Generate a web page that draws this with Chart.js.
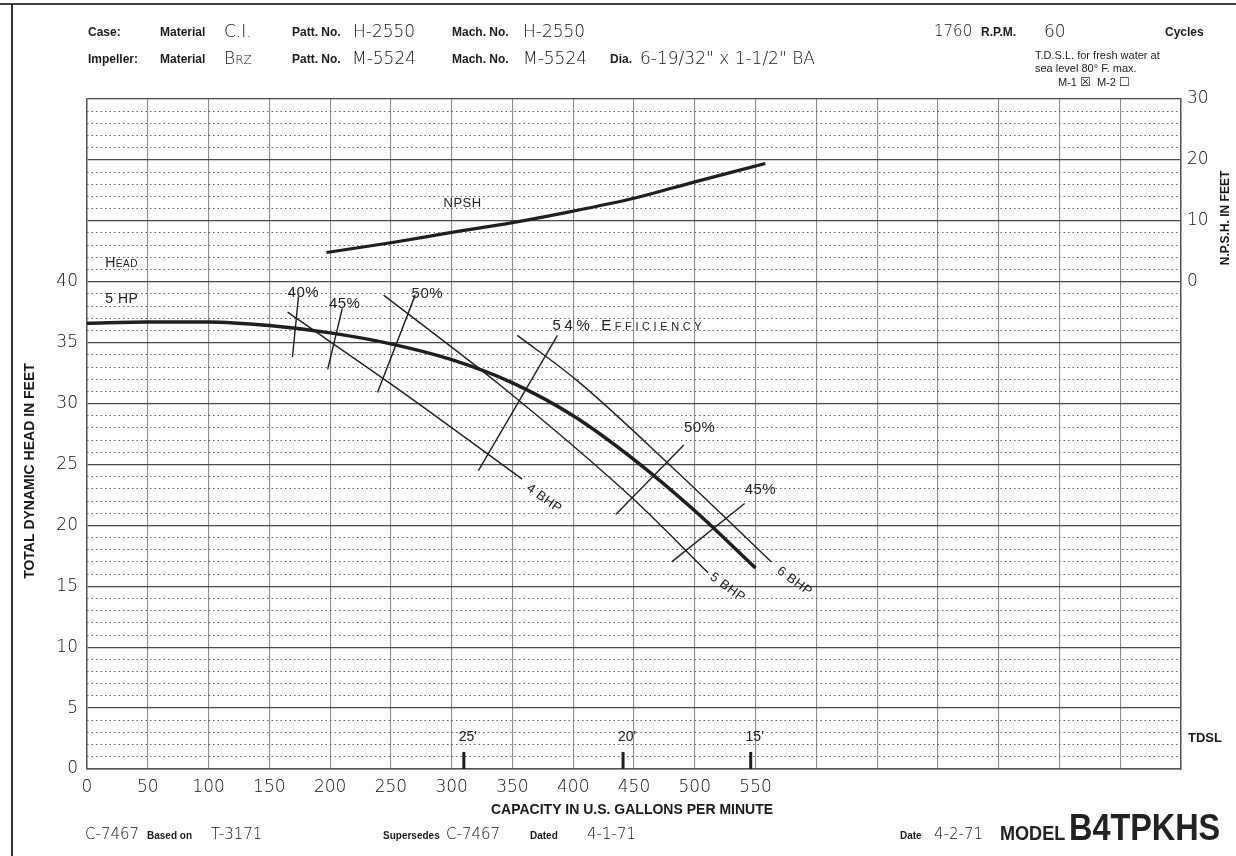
<!DOCTYPE html>
<html>
<head>
<meta charset="utf-8">
<title>B4TPKHS pump curve</title>
<script src="https://cdn.jsdelivr.net/npm/chart.js@4.4.1/dist/chart.umd.min.js"></script>
<style>
  html, body { margin: 0; padding: 0; background: #fff; }
  #page { position: relative; width: 1236px; height: 856px; overflow: hidden; background: #fdfdfc; }
  #chartBox { position: absolute; left: 0; top: 0; width: 1236px; height: 856px; }
  .t { position: absolute; white-space: nowrap; color: #1c1c1c; transform: translateY(-50%); line-height: 1; }
  .b { font-family: "Liberation Sans", Arial, sans-serif; font-weight: bold; font-size: 12px; }
  .f { font-family: "Liberation Sans", Arial, sans-serif; font-weight: bold; font-size: 10px; }
  .v { font-family: "DejaVu Sans", sans-serif; font-weight: 200; font-size: 17px; color: #111; }
  .w { font-family: "DejaVu Sans", sans-serif; font-weight: 200; font-size: 15px; color: #111; }
  .s { font-family: "Liberation Sans", Arial, sans-serif; font-size: 11px; color: #1c1c1c; }
  .frameTop { position: absolute; left: 0; top: 3px; width: 1236px; height: 2px; background: #444; }
  .frameLeft { position: absolute; left: 11px; top: 4px; width: 2px; height: 852px; background: #333; }
</style>
</head>
<body>
<div id="page">
  <div id="chartBox"><canvas id="pumpChart" width="1236" height="856"></canvas></div>
  <div class="frameTop"></div>
  <div class="frameLeft"></div>

  <!-- header -->
  <span class="t b" style="left:88px;top:32px">Case:</span>
  <span class="t b" style="left:160px;top:32px">Material</span>
  <span class="t v" style="left:224px;top:31px">C.I.</span>
  <span class="t b" style="left:292px;top:32px">Patt. No.</span>
  <span class="t v" style="left:353px;top:31px">H-2550</span>
  <span class="t b" style="left:452px;top:32px">Mach. No.</span>
  <span class="t v" style="left:523px;top:31px">H-2550</span>
  <span class="t w" style="left:934px;top:31px">1760</span>
  <span class="t b" style="left:981px;top:32px">R.P.M.</span>
  <span class="t v" style="left:1044px;top:31px">60</span>
  <span class="t b" style="left:1165px;top:32px">Cycles</span>

  <span class="t b" style="left:88px;top:59px">Impeller:</span>
  <span class="t b" style="left:160px;top:59px">Material</span>
  <span class="t v" style="left:224px;top:58px;font-variant:small-caps">Brz</span>
  <span class="t b" style="left:292px;top:59px">Patt. No.</span>
  <span class="t v" style="left:352px;top:58px">M-5524</span>
  <span class="t b" style="left:452px;top:59px">Mach. No.</span>
  <span class="t v" style="left:523px;top:58px">M-5524</span>
  <span class="t b" style="left:610px;top:59px">Dia.</span>
  <span class="t v" style="left:640px;top:58px">6-19/32" x 1-1/2" BA</span>

  <span class="t s" style="left:1035px;top:55px">T.D.S.L. for fresh water at</span>
  <span class="t s" style="left:1035px;top:68px">sea level 80° F. max.</span>
  <span class="t s" style="left:1058px;top:82px">M-1 <span style="font-family:'DejaVu Sans';font-size:12px">&#9746;</span>&nbsp; M-2 <span style="font-family:'DejaVu Sans';font-size:12px">&#9744;</span></span>

  <!-- footer -->
  <span class="t w" style="left:85px;top:834px">C-7467</span>
  <span class="t f" style="left:147px;top:836px">Based on</span>
  <span class="t w" style="left:211px;top:834px">T-3171</span>
  <span class="t f" style="left:383px;top:836px">Supersedes</span>
  <span class="t w" style="left:446px;top:834px">C-7467</span>
  <span class="t f" style="left:530px;top:836px">Dated</span>
  <span class="t w" style="left:587px;top:834px">4-1-71</span>
  <span class="t f" style="left:900px;top:836px">Date</span>
  <span class="t w" style="left:934px;top:834px">4-2-71</span>
  <span class="t" style="left:1000px;top:832px;font-family:'Liberation Sans',sans-serif;font-weight:bold;font-size:21px;color:#222;transform:translateY(-50%) scaleX(0.86);transform-origin:left center">MODEL</span>
  <span class="t" style="left:1069px;top:828px;font-family:'Liberation Sans',sans-serif;font-weight:bold;font-size:36px;color:#222;transform:translateY(-50%) scaleX(0.9);transform-origin:left center">B4TPKHS</span>
</div>

<script>
// Axis tick labels shown on the sheet
const capacityTicks = [0, 50, 100, 150, 200, 250, 300, 350, 400, 450, 500, 550];
const headTicks = [0, 5, 10, 15, 20, 25, 30, 35, 40];
const npshTicks = [0, 10, 20, 30];

// Head-capacity curve (5 HP)
const headGpm = [0, 50, 100, 150, 200, 250, 300, 350, 400, 450, 500, 550];
const headFt = [36.6, 36.7, 36.7, 36.4, 35.8, 34.9, 33.6, 31.7, 29.0, 25.4, 21.2, 16.5];

// NPSH curve (right axis)
const npshGpm = [197, 250, 300, 350, 400, 450, 500, 558];
const npshFt = [4.8, 6.4, 8.1, 9.7, 11.6, 13.7, 16.4, 19.4];

// Brake horsepower lines
const bhp4Gpm = [165, 260, 358];
const bhp4Ft = [37.5, 30.9, 23.8];
const bhp5Gpm = [244, 340, 449, 511];
const bhp5Ft = [38.9, 31.5, 22.2, 16.1];
const bhp6Gpm = [354, 403, 479, 563];
const bhp6Ft = [35.6, 31.9, 25.0, 17.0];

// Efficiency ticks crossing the head curve
const effLabels = ['40%', '45%', '50%', '54%', '50%', '45%'];
const effTopGpm = [174, 210, 270, 387, 491, 541];
const effTopFt = [38.8, 37.8, 38.9, 35.6, 26.6, 21.8];
const effBotGpm = [169, 198, 239, 322, 435, 481];
const effBotFt = [33.8, 32.8, 30.9, 24.5, 20.9, 17.0];

// TDSL marks on the capacity axis
const tdslLabels = ["25'", "20'", "15'"];
const tdslGpm = [310, 441, 546];
const tdslMarkFt = [0, 1.4];

// Hand lettering placed on the grid (in data units)
const notes = [
    { text: 'Head', gpm: 15, ft: 41.5, align: 'left', size: 14, caps: true },
    { text: '5 HP', gpm: 15, ft: 38.6, align: 'left', size: 14 },
    { text: 'NPSH', gpm: 309, ft: 46.4, size: 13 },
    { text: '40%', gpm: 178, ft: 39.1, size: 15 },
    { text: '45%', gpm: 212, ft: 38.2, size: 15 },
    { text: '50%', gpm: 280, ft: 39.0, size: 15 },
    { text: '54% Efficiency', gpm: 383, ft: 36.4, align: 'left', size: 15, spacing: '3.6px', caps: true },
    { text: '50%', gpm: 504, ft: 28.0, size: 15 },
    { text: '45%', gpm: 554, ft: 22.9, size: 15 },
    { text: '4 BHP', gpm: 376, ft: 22.2, size: 13, angle: 36 },
    { text: '5 BHP', gpm: 527, ft: 14.9, size: 13, angle: 36 },
    { text: '6 BHP', gpm: 582, ft: 15.4, size: 13, angle: 36 },
];

const ink = '#1f1f1f';
const letterFont = "'Liberation Sans', Arial, sans-serif";
const zip = (xs, ys) => xs.map((v, i) => ({ x: v, y: ys[i] }));

const curve = (data, width, axis) => ({
    data: data,
    yAxisID: axis || 'y',
    showLine: true,
    borderColor: ink,
    borderWidth: width,
    pointRadius: 0,
    tension: 0.4,
    cubicInterpolationMode: 'monotone',
    fill: false,
});

const datasets = [
    curve(zip(headGpm, headFt), 3.5),
    curve(zip(npshGpm, npshFt), 3.2, 'yR'),
    curve(zip(bhp4Gpm, bhp4Ft), 1.4),
    curve(zip(bhp5Gpm, bhp5Ft), 1.4),
    curve(zip(bhp6Gpm, bhp6Ft), 1.4),
];
effLabels.forEach((lab, i) => {
    const ds = curve([{ x: effTopGpm[i], y: effTopFt[i] }, { x: effBotGpm[i], y: effBotFt[i] }], 1.4);
    ds.tension = 0;
    datasets.push(ds);
});
tdslGpm.forEach(g => {
    const ds = curve(tdslMarkFt.map(f => ({ x: g, y: f })), 3);
    ds.tension = 0;
    datasets.push(ds);
});

// Draws the lettering, axis titles and TDSL notes
const letteringPlugin = {
    id: 'lettering',
    afterDatasetsDraw(chart) {
        const { ctx, scales } = chart;
        const x = scales.x, y = scales.y;
        ctx.save();
        ctx.fillStyle = '#222';
        ctx.textBaseline = 'middle';
        notes.forEach(n => {
            ctx.save();
            ctx.translate(x.getPixelForValue(n.gpm), y.getPixelForValue(n.ft));
            ctx.rotate((n.angle || 0) * Math.PI / 180);
            ctx.font = `${n.size}px ${letterFont}`;
            ctx.letterSpacing = n.spacing || '0.5px';
            let text = n.text;
            if (n.caps) {
                if ('fontVariantCaps' in ctx) ctx.fontVariantCaps = 'small-caps';
                else text = text.toUpperCase();
            }
            ctx.textAlign = n.align || 'center';
            ctx.fillText(text, 0, 0);
            ctx.restore();
        });

        // TDSL labels above their marks
        ctx.font = `14px ${letterFont}`;
        ctx.textAlign = 'center';
        tdslGpm.forEach((g, i) => {
            ctx.fillText(tdslLabels[i], x.getPixelForValue(g) + 4, y.getPixelForValue(2.6));
        });

        // axis titles
        const area = chart.chartArea;
        ctx.fillStyle = '#1a1a1a';
        ctx.font = "bold 14px 'Liberation Sans', Arial, sans-serif";
        ctx.textAlign = 'center';
        ctx.fillText('CAPACITY IN U.S. GALLONS PER MINUTE', 632, area.bottom + 41);

        ctx.save();
        ctx.translate(30, 471);
        ctx.rotate(-Math.PI / 2);
        ctx.fillText('TOTAL DYNAMIC HEAD IN FEET', 0, 0);
        ctx.restore();

        ctx.save();
        ctx.font = "bold 12px 'Liberation Sans', Arial, sans-serif";
        ctx.translate(1226, 218);
        ctx.rotate(-Math.PI / 2);
        ctx.fillText('N.P.S.H. IN FEET', 0, 0);
        ctx.restore();

        ctx.font = "bold 13px 'Liberation Sans', Arial, sans-serif";
        ctx.textAlign = 'left';
        ctx.fillText('TDSL', area.right + 7, y.getPixelForValue(2.5));
        ctx.restore();
    }
};

const tickFont = { family: 'DejaVu Sans', size: 17, weight: '200' };

new Chart(document.getElementById('pumpChart'), {
    type: 'scatter',
    data: { datasets: datasets },
    plugins: [letteringPlugin],
    options: {
        responsive: false,
        animation: false,
        events: [],
        layout: { padding: { left: 14, right: 0, top: 99, bottom: 39 } },
        plugins: { legend: { display: false }, tooltip: { enabled: false } },
        scales: {
            x: {
                type: 'linear',
                min: 0,
                max: 900,
                ticks: {
                    stepSize: 50,
                    autoSkip: false,
                    maxRotation: 0,
                    padding: 8,
                    color: '#0d0d0d',
                    font: tickFont,
                    callback: v => capacityTicks.includes(v) ? v : '',
                },
                grid: { color: '#8d8d8d', lineWidth: 1.1, drawTicks: false },
                border: { display: true, color: '#555', width: 1.5 },
                afterFit: scale => { scale.height = 48; },
            },
            y: {
                position: 'left',
                min: 0,
                max: 55,
                ticks: {
                    stepSize: 5,
                    padding: 9,
                    color: '#0d0d0d',
                    font: tickFont,
                    callback: v => headTicks.includes(v) ? v : '',
                },
                grid: { color: '#4a4a4a', lineWidth: 1.3, drawTicks: false },
                border: { display: true, color: '#555', width: 1.5 },
                afterFit: scale => { scale.width = 73; },
            },
            yMinor: {
                position: 'left',
                min: 0,
                max: 55,
                ticks: { stepSize: 1, display: false },
                grid: {
                    drawTicks: false,
                    lineWidth: 1,
                    color: c => (c.tick && c.tick.value % 5 === 0) ? 'rgba(0,0,0,0)' : '#606060',
                },
                border: { display: false, dash: [1.5, 3] },
                afterFit: scale => { scale.width = 0; },
            },
            yR: {
                position: 'right',
                min: -80,
                max: 30,
                ticks: {
                    stepSize: 10,
                    padding: 6,
                    color: '#0d0d0d',
                    font: tickFont,
                    callback: v => npshTicks.includes(v) ? v : '',
                },
                grid: { display: false, drawTicks: false },
                border: { display: true, color: '#555', width: 1.5 },
                afterFit: scale => { scale.width = 55; },
            },
        },
    },
});
</script>
</body>
</html>
